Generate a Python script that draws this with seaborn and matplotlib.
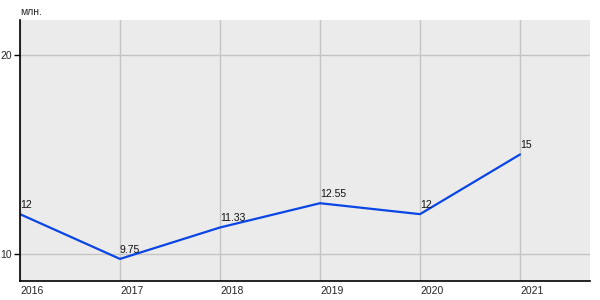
import matplotlib
matplotlib.use("Agg")
import matplotlib.pyplot as plt
import seaborn as sns
import pandas as pd

years = [2016, 2017, 2018, 2019, 2020, 2021]
values = [12, 9.75, 11.33, 12.55, 12, 15]
labels = ["12", "9.75", "11.33", "12.55", "12", "15"]
y_ticks = [10, 20]
unit = "млн."

sns.set_theme(style="white")
plt.rcParams['font.family'] = ['Liberation Sans', 'DejaVu Sans']

df = pd.DataFrame({"year": years, "value": values})

fig = plt.figure(figsize=(6, 3), dpi=100)
ax = fig.add_axes([20/600, 19/300, 570/600, 261/300])
ax.set_facecolor("#ebebeb")

sns.lineplot(data=df, x="year", y="value", ax=ax, color="#0a46e6", linewidth=1.6)

ax.set_xlim(2016, 2021.7)
ax.set_ylim(8.64, 21.76)
ax.set_xticks(years)
ax.set_xticklabels([str(y) for y in years], fontsize=7.5, ha="left")
ax.set_yticks(y_ticks)
ax.set_yticklabels([str(t) for t in y_ticks], fontsize=7.5)
ax.grid(True, color="#c4c4c4", linewidth=1)
ax.set_axisbelow(True)
ax.set_xlabel("")
ax.set_ylabel("")

for s in ["top", "right"]:
    ax.spines[s].set_visible(False)
for s in ["left", "bottom"]:
    ax.spines[s].set_color("black")
    ax.spines[s].set_linewidth(1.2)

ax.tick_params(axis="y", length=4, width=1, color="black", pad=2, left=True)
ax.tick_params(axis="x", length=0, pad=3.5)

for x, y, lab in zip(years, values, labels):
    ax.annotate(lab, (x, y), xytext=(0, 3), textcoords="offset points",
                fontsize=7.5, ha="left", va="bottom", color="#111111")

fig.text(20/600, 1 - 12/300, unit, fontsize=7.5, ha="left", va="center")

fig.savefig("out.png", dpi=100)
